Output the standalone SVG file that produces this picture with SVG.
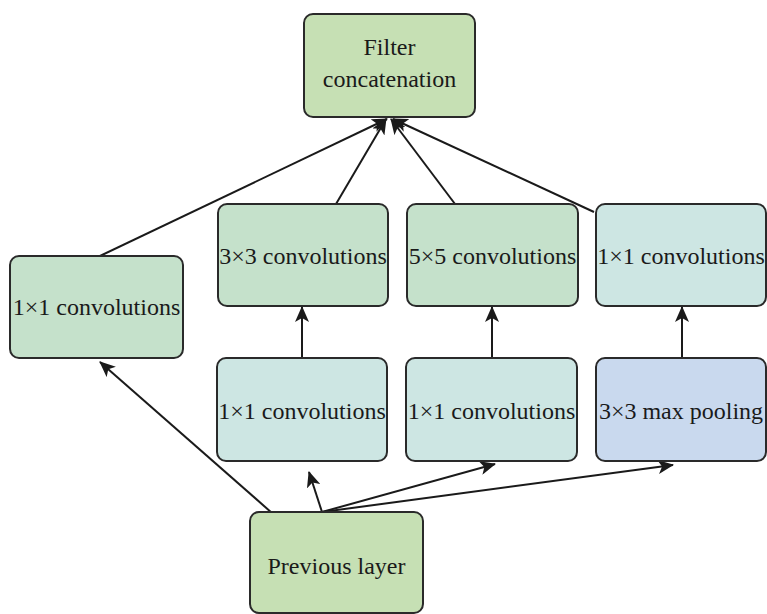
<svg xmlns="http://www.w3.org/2000/svg" width="767" height="614" viewBox="0 0 767 614">
  <defs>
    <marker id="arrow" viewBox="0 0 16 14" refX="15" refY="7" markerWidth="16" markerHeight="14" markerUnits="userSpaceOnUse" orient="auto">
      <path d="M0,0 L16,7 L0,14 L4,7 Z" fill="#1a1a1a"/>
    </marker>
    <style>
      .box { stroke: #2a2a2a; stroke-width: 2; }
      .green { fill: #c6e0b4; }
      .mint { fill: #c5e1cb; }
      .cyan { fill: #cde6e3; }
      .blue { fill: #c9d9ee; }
      .label { font-family: 'Liberation Serif', 'Times New Roman', serif; font-size: 24px; fill: #1a1a1a; text-anchor: middle; }
      .edge { stroke: #1a1a1a; stroke-width: 2; fill: none; marker-end: url(#arrow); }
    </style>
  </defs>
  <rect width="767" height="614" fill="#ffffff"/>

  <g id="connectors">
    <line class="edge" x1="100" y1="256" x2="387" y2="119"/>
    <line class="edge" x1="336" y1="204" x2="386" y2="119"/>
    <line class="edge" x1="455" y1="204" x2="391" y2="119"/>
    <line class="edge" x1="594" y1="212" x2="393" y2="119"/>
    <line class="edge" x1="302" y1="358" x2="302" y2="307"/>
    <line class="edge" x1="492" y1="358" x2="492" y2="307"/>
    <line class="edge" x1="682" y1="358" x2="682" y2="307"/>
    <line class="edge" x1="272" y1="513" x2="100" y2="362"/>
    <line class="edge" x1="322" y1="512" x2="309" y2="472"/>
    <line class="edge" x1="322" y1="512" x2="495" y2="464"/>
    <line class="edge" x1="322" y1="512" x2="673" y2="465"/>
  </g>

  <g id="filter-concat">
    <rect class="box green" x="304" y="14" width="171" height="103" rx="9"/>
    <text class="label" x="389.5" y="55">Filter</text>
    <text class="label" x="389.5" y="87">concatenation</text>
  </g>

  <g id="conv1x1-a">
    <rect class="box mint" x="10" y="256" width="173" height="102" rx="9"/>
    <text class="label" x="96.5" y="315">1×1 convolutions</text>
  </g>

  <g id="conv3x3">
    <rect class="box mint" x="218" y="204" width="170" height="102" rx="9"/>
    <text class="label" x="303" y="264">3×3 convolutions</text>
  </g>

  <g id="conv5x5">
    <rect class="box mint" x="407" y="204" width="171" height="102" rx="9"/>
    <text class="label" x="492.5" y="264">5×5 convolutions</text>
  </g>

  <g id="conv1x1-d">
    <rect class="box cyan" x="596" y="204" width="170" height="102" rx="9"/>
    <text class="label" x="681" y="264">1×1 convolutions</text>
  </g>

  <g id="conv1x1-b">
    <rect class="box cyan" x="217" y="358" width="170" height="103" rx="9"/>
    <text class="label" x="302" y="419">1×1 convolutions</text>
  </g>

  <g id="conv1x1-c">
    <rect class="box cyan" x="406" y="358" width="171" height="103" rx="9"/>
    <text class="label" x="491.5" y="419">1×1 convolutions</text>
  </g>

  <g id="maxpool3x3">
    <rect class="box blue" x="596" y="358" width="170" height="103" rx="9"/>
    <text class="label" x="681" y="419">3×3 max pooling</text>
  </g>

  <g id="previous-layer">
    <rect class="box green" x="250" y="512" width="173" height="101" rx="9"/>
    <text class="label" x="336.5" y="574">Previous layer</text>
  </g>
</svg>
